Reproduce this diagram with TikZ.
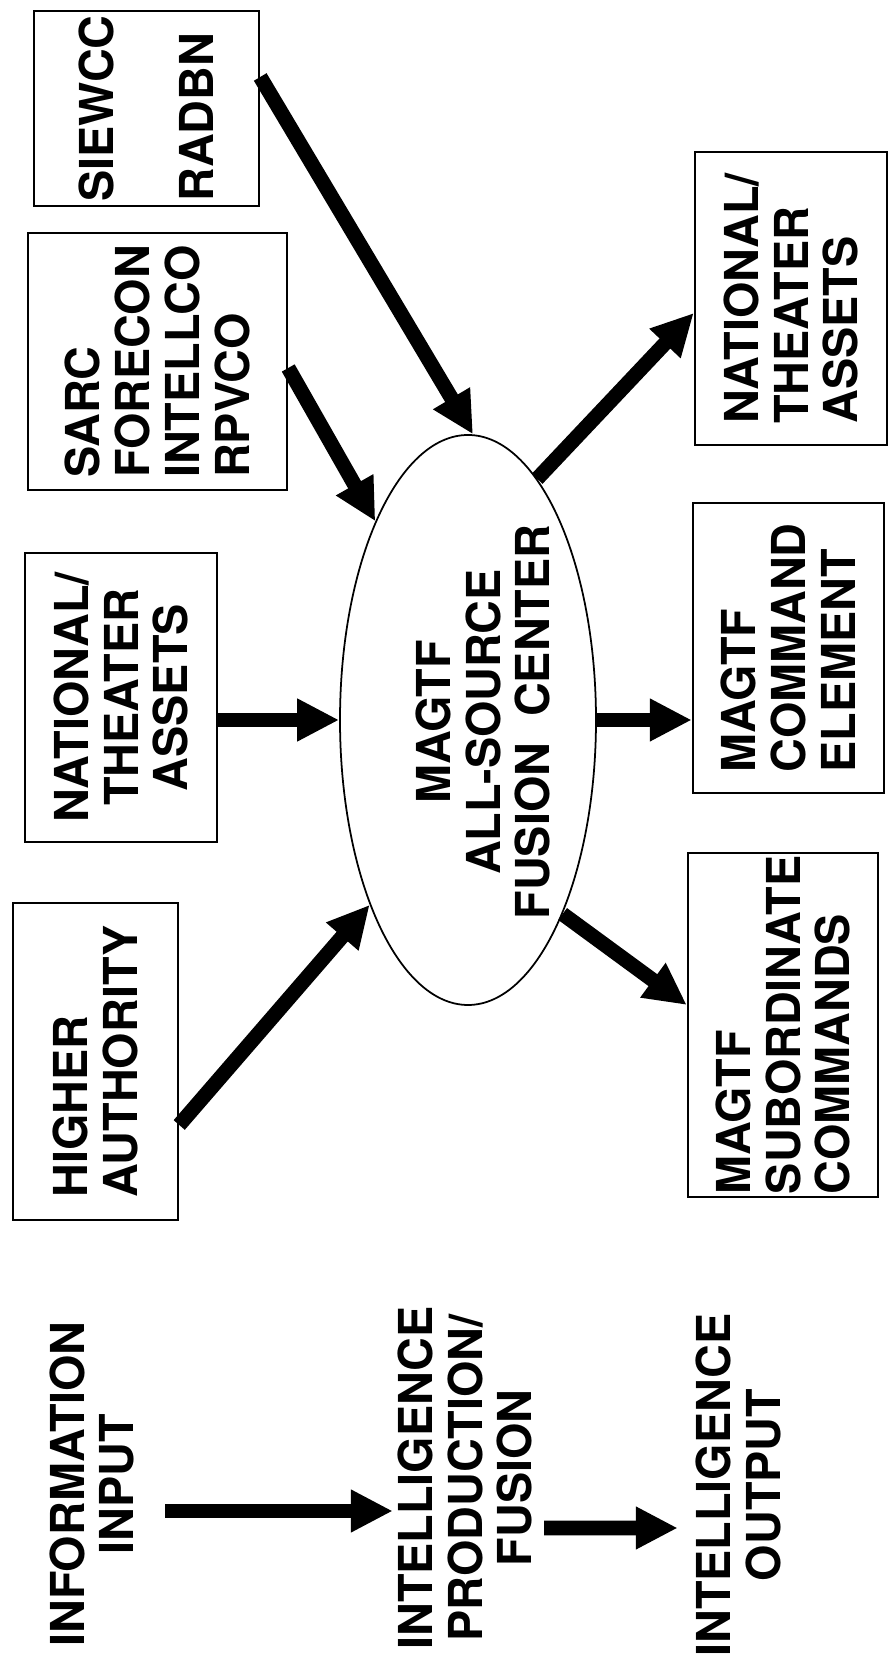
\documentclass[tikz,border=0pt]{standalone}
\usepackage{fontspec}
\setmainfont{TeX Gyre Heros}
\usetikzlibrary{arrows.meta,shapes.geometric}
\newcommand{\capfont}{\fontsize{13.3}{14.2}\selectfont\bfseries}

\begin{document}
\begin{tikzpicture}[
  box/.style={draw,line width=0.7pt,rotate=90,inner sep=0pt,align=left,font=\capfont},
  blob/.style={draw,ellipse,line width=0.5pt,inner sep=0pt,
    minimum width=2.56cm,minimum height=5.70cm},
  lbl/.style={rotate=90,inner sep=0pt,align=center,font=\capfont},
  flow/.style={line width=4.2pt,-{Triangle[length=0.42cm,width=0.40cm]}}]
\useasboundingbox (0,0) rectangle (8.88,16.54);
% sources, left column
\node[box,minimum width=1.95cm,minimum height=2.25cm] (siewcc) at (1.465,15.455) {SIEWCC\\[14.2pt]RADBN};
\node[box,minimum width=2.57cm,minimum height=2.59cm] (sarc) at (1.575,12.925) {SARC\\FORECON\\INTELLCO\\RPVCO};
\node[box,align=center,minimum width=2.89cm,minimum height=1.92cm] (natl) at (1.21,9.565) {NATIONAL/\\THEATER\\ASSETS};
\node[box,minimum width=3.17cm,minimum height=1.65cm] (higher) at (0.955,5.925) {HIGHER\\AUTHORITY};
% users, right column
\node[box,minimum width=2.93cm,minimum height=1.92cm] (natr) at (7.91,13.555) {NATIONAL/\\THEATER\\ASSETS};
\node[box,minimum width=2.90cm,minimum height=1.91cm] (cmd) at (7.885,10.06) {MAGTF\\COMMAND\\ELEMENT};
\node[box,minimum width=3.44cm,minimum height=1.90cm] (subord) at (7.83,6.29) {MAGTF\\SUBORDINATE\\COMMANDS};
% the fusion center
\node[blob] (fusion) at (4.68,9.34) {};
\node[lbl] (fusiontxt) at (4.83,9.32) {MAGTF\\ALL-SOURCE\\FUSION\ \ CENTER};
% inputs
\draw[flow] ([yshift=0.315cm]siewcc.south) -- (fusion.89);
\draw[flow] ([yshift=-0.065cm]sarc.south) -- (fusion.115);
\draw[flow] (natl.south |- fusion.west) -- (fusion.west);
\draw[flow] ([yshift=-0.635cm]higher.south) -- (fusion.242);
% outputs
\draw[flow] (fusion.74) -- ([yshift=-0.145cm]natr.north);
\draw[flow] (fusion.east) -- (fusion.east -| cmd.north);
\draw[flow] (fusion.296) -- ([yshift=0.20cm]subord.north);
% legend along the bottom
\node[lbl] (info) at (0.92,1.70) {INFORMATION\\INPUT};
\node[lbl] (prod) at (4.65,1.76) {INTELLIGENCE\\PRODUCTION/\\FUSION};
\node[lbl] (outp) at (7.38,1.69) {INTELLIGENCE\\OUTPUT};
\draw[flow] ([xshift=0.30cm,yshift=-0.27cm]info.south) -- ([xshift=-0.04cm,yshift=-0.33cm]prod.north);
\draw[flow] ([xshift=0.11cm,yshift=-0.50cm]prod.south) -- ([xshift=-0.17cm,yshift=-0.43cm]outp.north);
\end{tikzpicture}
\end{document}
